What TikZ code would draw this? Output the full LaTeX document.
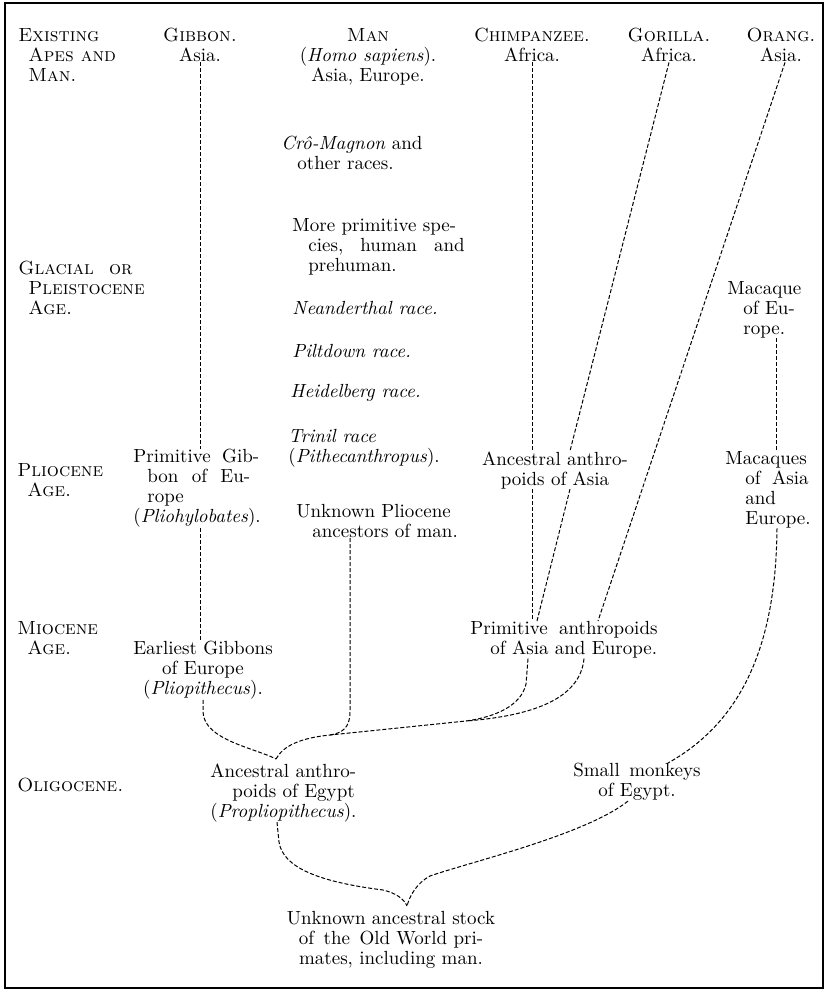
\documentclass[tikz,border=0pt]{standalone}
\usepackage{tikz}
\usetikzlibrary{calc}

\newcommand{\hg}{\hspace*{8pt}}

\begin{document}
\begin{tikzpicture}[x=0.5pt,y=-0.5pt,
  font=\fontsize{9.5}{10}\selectfont,
  lbl/.style={inner sep=0pt,align=left,anchor=north west},
  ctr/.style={inner sep=0pt,align=center,anchor=north},
  age/.style={lbl,font=\fontsize{9.5}{10}\selectfont\scshape},
  lin/.style={line width=0.5pt,dash pattern=on 2pt off 1pt}]
  \useasboundingbox (0,0) rectangle (825,990);
  \draw[line width=1.1pt] (5,3) rectangle (823,988);

  % ages
  \node[age] (ex) at (18,28) {Existing\\\hspace*{5pt}Apes and\\\hspace*{5pt}Man.};
  \node[age] (gl) at (18,261) {Glacial\hspace{0.8em}or\\\hspace*{5pt}Pleistocene\\\hspace*{5pt}Age.};
  \node[age] (pl) at (17,463) {Pliocene\\\hspace*{5pt}Age.};
  \node[age] (mi) at (17,621) {Miocene\\\hspace*{5pt}Age.};
  \node[age] (ol) at (17,778) {Oligocene.};

  % living forms
  \node[ctr] (gib) at (200,28) {\textsc{Gibbon.}\\Asia.};
  \node[ctr] (man) at (368,28) {\textsc{Man}\\(\textit{Homo sapiens}).\\Asia, Europe.};
  \node[ctr] (chimp) at (532,28) {\textsc{Chimpanzee.}\\Africa.};
  \node[ctr] (gor) at (669,28) {\textsc{Gorilla.}\\Africa.};
  \node[ctr] (ora) at (781,28) {\textsc{Orang.}\\Asia.};

  % human line
  \node[lbl] (cro) at (281,136) {\textit{Crô-Magnon} and\\\hg other races.};
  \node[lbl] (more) at (292,218) {More primitive spe-\\\hg cies,\hspace{0.9em}human\hspace{0.9em}and\\\hg prehuman.};
  \node[lbl] (nean) at (292,301) {\textit{Neanderthal race.}};
  \node[lbl] (pilt) at (292,344) {\textit{Piltdown race.}};
  \node[lbl] (heid) at (290,384) {\textit{Heidelberg race.}};
  \node[lbl] (trin) at (288,429) {\textit{Trinil race}\\(\textit{Pithecanthropus}).};
  \node[lbl] (unk) at (296,504) {Unknown Pliocene\\\hg ancestors of man.};

  % gibbons and anthropoids
  \node[lbl] (gp) at (133,449) {Primitive\hspace{0.6em}Gib-\\\hspace*{7pt}bon\hspace{0.7em}of\hspace{0.7em}Eu-\\\hspace*{7pt}rope\\(\textit{Pliohylobates}).};
  \node[ctr] (ea) at (203,641) {Earliest Gibbons\\of Europe\\(\textit{Pliopithecus}).};
  \node[ctr] (ape) at (555,451) {Ancestral anthro-\\poids of Asia};
  \node[lbl] (pa) at (470,621) {Primitive\hspace{0.6em}anthropoids\\\hspace*{10pt}of Asia and Europe.};
  \node[lbl] (maceu) at (727,281) {Macaque\\\hg of Eu-\\\hg rope.};
  \node[lbl] (macs) at (725,451) {Macaques\\\hspace*{10pt}of\hspace{0.6em}Asia\\\hspace*{10pt}and\\\hspace*{10pt}Europe.};
  \node[ctr] (sm) at (637,763) {Small\hspace{0.5em}monkeys\\of Egypt.};
  \node[lbl] (ae) at (210,763) {Ancestral anthro-\\\hspace*{11pt}poids of Egypt\\(\textit{Propliopithecus}).};
  \node[ctr] (un) at (391,911) {Unknown ancestral stock\\of\hspace{0.5em}the\hspace{0.5em}Old World pri-\\mates, including man.};

  \coordinate (tipA) at (276,759);
  \coordinate (tipB) at (407,906);
  \coordinate (jA) at (330,735);
  \coordinate (jB) at (466,721);

  % gibbon stem
  \draw[lin] (gib.south) -- (gib.south |- gp.north);
  \draw[lin] (gib.south |- gp.south) -- (gib.south |- ea.north);
  \draw[lin] (ea.south) -- (203,712) .. controls (204,740) and (255,748) .. (tipA);
  % man and anthropoids
  \draw[lin] (tipA) .. controls (283,746) and (300,738) .. (jA) -- (jB);
  \draw[lin] ($(unk.south west)+(54,0)$) -- (350,712) .. controls (350,728) and (342,733) .. (jA);
  \draw[lin] ($(pa.south west)+(58,0)$) -- (526,684) .. controls (521,706) and (495,717) .. (jB);
  \draw[lin] ($(pa.south west)+(114,0)$) .. controls (580,700) and (530,716) .. (jB);
  \draw[lin] (chimp.south) -- (chimp.south |- ape.north);
  \draw[lin] (chimp.south |- ape.south) -- (chimp.south |- pa.north);
  \draw[lin] (gor.south) -- ($(ape.north)+(15,0)$);
  \draw[lin] ($(ape.south)+(15,0)$) -- ($(pa.north west)+(67,0)$);
  \draw[lin] ($(ora.south)+(4,0)$) -- ($(pa.north west)+(128,0)$);
  % macaques
  \draw[lin] ($(maceu.south west)+(49,0)$) -- ($(macs.north west)+(51,0)$);
  \draw[lin] ($(macs.south west)+(52,0)$) .. controls (776,640) and (745,720) .. ($(sm.north)+(31,0)$);
  % common stock
  \draw[lin] ($(sm.south)+(-9,0)$) .. controls (585,835) and (470,862) .. (430,876)
    .. controls (417,883) and (410,895) .. (tipB);
  \draw[lin] ($(ae.south west)+(67,0)$) -- (279,842) .. controls (283,868) and (320,882) .. (383,890)
    .. controls (396,893) and (404,899) .. (tipB);
\end{tikzpicture}
\end{document}
